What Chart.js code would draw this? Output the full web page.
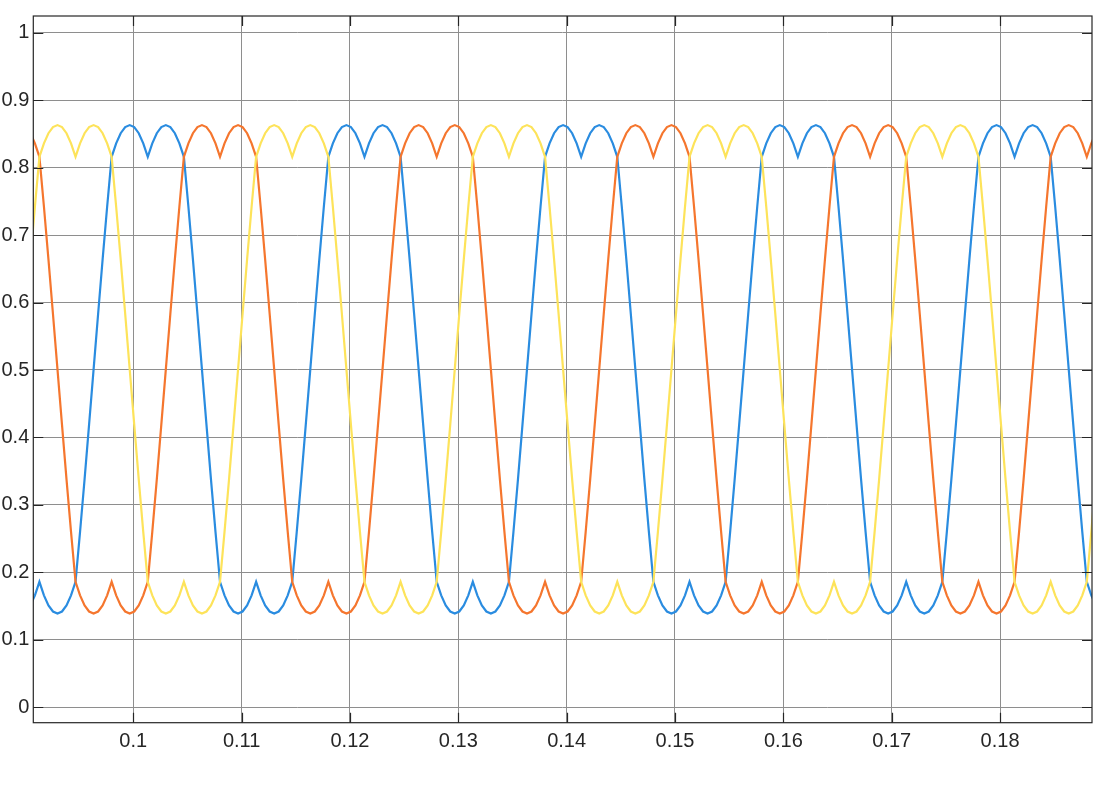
<!DOCTYPE html>
<html lang="pt-BR">
<head>
<meta charset="utf-8">
<title>Sinais modulantes</title>
<script src="https://cdn.jsdelivr.net/npm/chart.js@4.4.1/dist/chart.umd.min.js"></script>
<style>
  html, body { margin: 0; padding: 0; background: #ffffff; }
  #grafico { display: block; }
</style>
</head>
<body>
<canvas id="grafico" width="1120" height="792"></canvas>
<script>
// ============================
// Dados (tempo em s)
// ============================
const tempo = [
  0.090507, 0.090923,
  0.09134, 0.091757, 0.092173, 0.09259, 0.093007, 0.093423, 0.09384, 0.094257, 0.094673, 0.09509, 0.095507, 0.095923,
  0.09634, 0.096757, 0.097173, 0.09759, 0.098007, 0.098423, 0.09884, 0.099257, 0.099673, 0.10009, 0.100507, 0.100923,
  0.10134, 0.101757, 0.102173, 0.10259, 0.103007, 0.103423, 0.10384, 0.104257, 0.104673, 0.10509, 0.105507, 0.105923,
  0.10634, 0.106757, 0.107173, 0.10759, 0.108007, 0.108423, 0.10884, 0.109257, 0.109673, 0.11009, 0.110507, 0.110923,
  0.11134, 0.111757, 0.112173, 0.11259, 0.113007, 0.113423, 0.11384, 0.114257, 0.114673, 0.11509, 0.115507, 0.115923,
  0.11634, 0.116757, 0.117173, 0.11759, 0.118007, 0.118423, 0.11884, 0.119257, 0.119673, 0.12009, 0.120507, 0.120923,
  0.12134, 0.121757, 0.122173, 0.12259, 0.123007, 0.123423, 0.12384, 0.124257, 0.124673, 0.12509, 0.125507, 0.125923,
  0.12634, 0.126757, 0.127173, 0.12759, 0.128007, 0.128423, 0.12884, 0.129257, 0.129673, 0.13009, 0.130507, 0.130923,
  0.13134, 0.131757, 0.132173, 0.13259, 0.133007, 0.133423, 0.13384, 0.134257, 0.134673, 0.13509, 0.135507, 0.135923,
  0.13634, 0.136757, 0.137173, 0.13759, 0.138007, 0.138423, 0.13884, 0.139257, 0.139673, 0.14009, 0.140507, 0.140923,
  0.14134, 0.141757, 0.142173, 0.14259, 0.143007, 0.143423, 0.14384, 0.144257, 0.144673, 0.14509, 0.145507, 0.145923,
  0.14634, 0.146757, 0.147173, 0.14759, 0.148007, 0.148423, 0.14884, 0.149257, 0.149673, 0.15009, 0.150507, 0.150923,
  0.15134, 0.151757, 0.152173, 0.15259, 0.153007, 0.153423, 0.15384, 0.154257, 0.154673, 0.15509, 0.155507, 0.155923,
  0.15634, 0.156757, 0.157173, 0.15759, 0.158007, 0.158423, 0.15884, 0.159257, 0.159673, 0.16009, 0.160507, 0.160923,
  0.16134, 0.161757, 0.162173, 0.16259, 0.163007, 0.163423, 0.16384, 0.164257, 0.164673, 0.16509, 0.165507, 0.165923,
  0.16634, 0.166757, 0.167173, 0.16759, 0.168007, 0.168423, 0.16884, 0.169257, 0.169673, 0.17009, 0.170507, 0.170923,
  0.17134, 0.171757, 0.172173, 0.17259, 0.173007, 0.173423, 0.17384, 0.174257, 0.174673, 0.17509, 0.175507, 0.175923,
  0.17634, 0.176757, 0.177173, 0.17759, 0.178007, 0.178423, 0.17884, 0.179257, 0.179673, 0.18009, 0.180507, 0.180923,
  0.18134, 0.181757, 0.182173, 0.18259, 0.183007, 0.183423, 0.18384, 0.184257, 0.184673, 0.18509, 0.185507, 0.185923,
  0.18634, 0.186757, 0.187173, 0.18759, 0.188007, 0.188423, 0.18884
];

// fase A (azul)
const faseA = [
  0.151, 0.166,
  0.186, 0.166, 0.151, 0.142, 0.139, 0.142, 0.151, 0.166, 0.186, 0.260, 0.338, 0.419,
  0.501, 0.583, 0.664, 0.742, 0.816, 0.836, 0.851, 0.860, 0.863, 0.860, 0.851, 0.836,
  0.816, 0.836, 0.851, 0.860, 0.863, 0.860, 0.851, 0.836, 0.816, 0.742, 0.664, 0.583,
  0.501, 0.419, 0.338, 0.260, 0.186, 0.166, 0.151, 0.142, 0.139, 0.142, 0.151, 0.166,
  0.186, 0.166, 0.151, 0.142, 0.139, 0.142, 0.151, 0.166, 0.186, 0.260, 0.338, 0.419,
  0.501, 0.583, 0.664, 0.742, 0.816, 0.836, 0.851, 0.860, 0.863, 0.860, 0.851, 0.836,
  0.816, 0.836, 0.851, 0.860, 0.863, 0.860, 0.851, 0.836, 0.816, 0.742, 0.664, 0.583,
  0.501, 0.419, 0.338, 0.260, 0.186, 0.166, 0.151, 0.142, 0.139, 0.142, 0.151, 0.166,
  0.186, 0.166, 0.151, 0.142, 0.139, 0.142, 0.151, 0.166, 0.186, 0.260, 0.338, 0.419,
  0.501, 0.583, 0.664, 0.742, 0.816, 0.836, 0.851, 0.860, 0.863, 0.860, 0.851, 0.836,
  0.816, 0.836, 0.851, 0.860, 0.863, 0.860, 0.851, 0.836, 0.816, 0.742, 0.664, 0.583,
  0.501, 0.419, 0.338, 0.260, 0.186, 0.166, 0.151, 0.142, 0.139, 0.142, 0.151, 0.166,
  0.186, 0.166, 0.151, 0.142, 0.139, 0.142, 0.151, 0.166, 0.186, 0.260, 0.338, 0.419,
  0.501, 0.583, 0.664, 0.742, 0.816, 0.836, 0.851, 0.860, 0.863, 0.860, 0.851, 0.836,
  0.816, 0.836, 0.851, 0.860, 0.863, 0.860, 0.851, 0.836, 0.816, 0.742, 0.664, 0.583,
  0.501, 0.419, 0.338, 0.260, 0.186, 0.166, 0.151, 0.142, 0.139, 0.142, 0.151, 0.166,
  0.186, 0.166, 0.151, 0.142, 0.139, 0.142, 0.151, 0.166, 0.186, 0.260, 0.338, 0.419,
  0.501, 0.583, 0.664, 0.742, 0.816, 0.836, 0.851, 0.860, 0.863, 0.860, 0.851, 0.836,
  0.816, 0.836, 0.851, 0.860, 0.863, 0.860, 0.851, 0.836, 0.816, 0.742, 0.664, 0.583,
  0.501, 0.419, 0.338, 0.260, 0.186, 0.166, 0.151
];

// fase B (laranja)
const faseB = [
  0.851, 0.836, 0.816, 0.742, 0.664, 0.583,
  0.501, 0.419, 0.338, 0.260, 0.186, 0.166, 0.151, 0.142, 0.139, 0.142, 0.151, 0.166,
  0.186, 0.166, 0.151, 0.142, 0.139, 0.142, 0.151, 0.166, 0.186, 0.260, 0.338, 0.419,
  0.501, 0.583, 0.664, 0.742, 0.816, 0.836, 0.851, 0.860, 0.863, 0.860, 0.851, 0.836,
  0.816, 0.836, 0.851, 0.860, 0.863, 0.860, 0.851, 0.836, 0.816, 0.742, 0.664, 0.583,
  0.501, 0.419, 0.338, 0.260, 0.186, 0.166, 0.151, 0.142, 0.139, 0.142, 0.151, 0.166,
  0.186, 0.166, 0.151, 0.142, 0.139, 0.142, 0.151, 0.166, 0.186, 0.260, 0.338, 0.419,
  0.501, 0.583, 0.664, 0.742, 0.816, 0.836, 0.851, 0.860, 0.863, 0.860, 0.851, 0.836,
  0.816, 0.836, 0.851, 0.860, 0.863, 0.860, 0.851, 0.836, 0.816, 0.742, 0.664, 0.583,
  0.501, 0.419, 0.338, 0.260, 0.186, 0.166, 0.151, 0.142, 0.139, 0.142, 0.151, 0.166,
  0.186, 0.166, 0.151, 0.142, 0.139, 0.142, 0.151, 0.166, 0.186, 0.260, 0.338, 0.419,
  0.501, 0.583, 0.664, 0.742, 0.816, 0.836, 0.851, 0.860, 0.863, 0.860, 0.851, 0.836,
  0.816, 0.836, 0.851, 0.860, 0.863, 0.860, 0.851, 0.836, 0.816, 0.742, 0.664, 0.583,
  0.501, 0.419, 0.338, 0.260, 0.186, 0.166, 0.151, 0.142, 0.139, 0.142, 0.151, 0.166,
  0.186, 0.166, 0.151, 0.142, 0.139, 0.142, 0.151, 0.166, 0.186, 0.260, 0.338, 0.419,
  0.501, 0.583, 0.664, 0.742, 0.816, 0.836, 0.851, 0.860, 0.863, 0.860, 0.851, 0.836,
  0.816, 0.836, 0.851, 0.860, 0.863, 0.860, 0.851, 0.836, 0.816, 0.742, 0.664, 0.583,
  0.501, 0.419, 0.338, 0.260, 0.186, 0.166, 0.151, 0.142, 0.139, 0.142, 0.151, 0.166,
  0.186, 0.166, 0.151, 0.142, 0.139, 0.142, 0.151, 0.166, 0.186, 0.260, 0.338, 0.419,
  0.501, 0.583, 0.664, 0.742, 0.816, 0.836, 0.851, 0.860, 0.863, 0.860, 0.851, 0.836,
  0.816, 0.836, 0.851
];

// fase C (amarela)
const faseC = [
  0.664, 0.742, 0.816, 0.836, 0.851, 0.860, 0.863, 0.860, 0.851, 0.836,
  0.816, 0.836, 0.851, 0.860, 0.863, 0.860, 0.851, 0.836, 0.816, 0.742, 0.664, 0.583,
  0.501, 0.419, 0.338, 0.260, 0.186, 0.166, 0.151, 0.142, 0.139, 0.142, 0.151, 0.166,
  0.186, 0.166, 0.151, 0.142, 0.139, 0.142, 0.151, 0.166, 0.186, 0.260, 0.338, 0.419,
  0.501, 0.583, 0.664, 0.742, 0.816, 0.836, 0.851, 0.860, 0.863, 0.860, 0.851, 0.836,
  0.816, 0.836, 0.851, 0.860, 0.863, 0.860, 0.851, 0.836, 0.816, 0.742, 0.664, 0.583,
  0.501, 0.419, 0.338, 0.260, 0.186, 0.166, 0.151, 0.142, 0.139, 0.142, 0.151, 0.166,
  0.186, 0.166, 0.151, 0.142, 0.139, 0.142, 0.151, 0.166, 0.186, 0.260, 0.338, 0.419,
  0.501, 0.583, 0.664, 0.742, 0.816, 0.836, 0.851, 0.860, 0.863, 0.860, 0.851, 0.836,
  0.816, 0.836, 0.851, 0.860, 0.863, 0.860, 0.851, 0.836, 0.816, 0.742, 0.664, 0.583,
  0.501, 0.419, 0.338, 0.260, 0.186, 0.166, 0.151, 0.142, 0.139, 0.142, 0.151, 0.166,
  0.186, 0.166, 0.151, 0.142, 0.139, 0.142, 0.151, 0.166, 0.186, 0.260, 0.338, 0.419,
  0.501, 0.583, 0.664, 0.742, 0.816, 0.836, 0.851, 0.860, 0.863, 0.860, 0.851, 0.836,
  0.816, 0.836, 0.851, 0.860, 0.863, 0.860, 0.851, 0.836, 0.816, 0.742, 0.664, 0.583,
  0.501, 0.419, 0.338, 0.260, 0.186, 0.166, 0.151, 0.142, 0.139, 0.142, 0.151, 0.166,
  0.186, 0.166, 0.151, 0.142, 0.139, 0.142, 0.151, 0.166, 0.186, 0.260, 0.338, 0.419,
  0.501, 0.583, 0.664, 0.742, 0.816, 0.836, 0.851, 0.860, 0.863, 0.860, 0.851, 0.836,
  0.816, 0.836, 0.851, 0.860, 0.863, 0.860, 0.851, 0.836, 0.816, 0.742, 0.664, 0.583,
  0.501, 0.419, 0.338, 0.260, 0.186, 0.166, 0.151, 0.142, 0.139, 0.142, 0.151, 0.166,
  0.186, 0.166, 0.151, 0.142, 0.139, 0.142, 0.151, 0.166, 0.186, 0.260, 0.338
];

// ============================
// Eixos (ticks e limites)
// ============================
const ticksX = [0.1, 0.11, 0.12, 0.13, 0.14, 0.15, 0.16, 0.17, 0.18];
const rotulosX = ['0.1', '0.11', '0.12', '0.13', '0.14', '0.15', '0.16', '0.17', '0.18'];
const ticksY = [0, 0.1, 0.2, 0.3, 0.4, 0.5, 0.6, 0.7, 0.8, 0.9, 1];
const rotulosY = ['0', '0.1', '0.2', '0.3', '0.4', '0.5', '0.6', '0.7', '0.8', '0.9', '1'];
const limitesX = [0.090775, 0.188487];
const limitesY = [-0.0228, 1.0247];

// safety: tamanhos diferentes quebram o desenho
[faseA, faseB, faseC].forEach((serie, i) => {
  if (serie.length !== tempo.length) {
    console.warn('Série ' + i + ' com tamanho diferente:', serie.length, tempo.length);
  }
});

function montarPontos(serie) {
  return tempo.map((t, i) => ({ x: t, y: serie[i] }));
}

// ============================
// Moldura e ticks para dentro (estilo MATLAB)
// ============================
const molduraPlugin = {
  id: 'moldura',
  afterDraw(chart) {
    const ctx = chart.ctx;
    const area = chart.chartArea;
    const sx = chart.scales.x;
    const sy = chart.scales.y;
    const tam = 10;

    ctx.save();
    ctx.strokeStyle = '#262626';
    ctx.lineWidth = 1.2;
    ctx.beginPath();
    ticksX.forEach(v => {
      const px = Math.round(sx.getPixelForValue(v)) + 0.5;
      ctx.moveTo(px, area.bottom);
      ctx.lineTo(px, area.bottom - tam);
      ctx.moveTo(px, area.top);
      ctx.lineTo(px, area.top + tam);
    });
    ticksY.forEach(v => {
      const py = Math.round(sy.getPixelForValue(v)) + 0.5;
      ctx.moveTo(area.left, py);
      ctx.lineTo(area.left + tam, py);
      ctx.moveTo(area.right, py);
      ctx.lineTo(area.right - tam, py);
    });
    ctx.stroke();
    ctx.strokeRect(area.left, area.top, area.right - area.left, area.bottom - area.top);
    ctx.restore();
  }
};

const fonteEixo = { family: '"Liberation Sans", Arial, Helvetica, sans-serif', size: 20 };

const config = {
  type: 'line',
  data: {
    datasets: [
      { label: 'A', data: montarPontos(faseA), borderColor: '#2a8ce0', borderWidth: 2.2, order: 3 },
      { label: 'B', data: montarPontos(faseB), borderColor: '#f5762e', borderWidth: 2.2, order: 2 },
      { label: 'C', data: montarPontos(faseC), borderColor: '#fde35a', borderWidth: 2.2, order: 1 }
    ]
  },
  options: {
    responsive: false,
    animation: false,
    events: [],
    layout: { padding: { top: 15, right: 28, left: 0, bottom: 0 } },
    elements: {
      point: { radius: 0 },
      line: { tension: 0, fill: false }
    },
    plugins: {
      legend: { display: false },
      tooltip: { enabled: false }
    },
    scales: {
      x: {
        type: 'linear',
        min: limitesX[0],
        max: limitesX[1],
        afterBuildTicks: (s) => { s.ticks = ticksX.map(v => ({ value: v })); },
        afterFit: (s) => { s.height = 69.3; },
        ticks: {
          callback: (v, i) => rotulosX[i],
          color: '#262626',
          font: fonteEixo,
          maxRotation: 0,
          autoSkip: false,
          padding: 7
        },
        grid: { color: '#8e8e8e', lineWidth: 1, drawTicks: false },
        border: { display: false }
      },
      y: {
        type: 'linear',
        min: limitesY[0],
        max: limitesY[1],
        afterBuildTicks: (s) => { s.ticks = ticksY.map(v => ({ value: v })); },
        afterFit: (s) => { s.width = 33.3; },
        ticks: {
          callback: (v, i) => rotulosY[i],
          color: '#262626',
          font: fonteEixo,
          autoSkip: false,
          padding: 4
        },
        grid: { color: '#8e8e8e', lineWidth: 1, drawTicks: false },
        border: { display: false }
      }
    }
  },
  plugins: [molduraPlugin]
};

const grafico = new Chart(document.getElementById('grafico').getContext('2d'), config);
</script>
</body>
</html>
